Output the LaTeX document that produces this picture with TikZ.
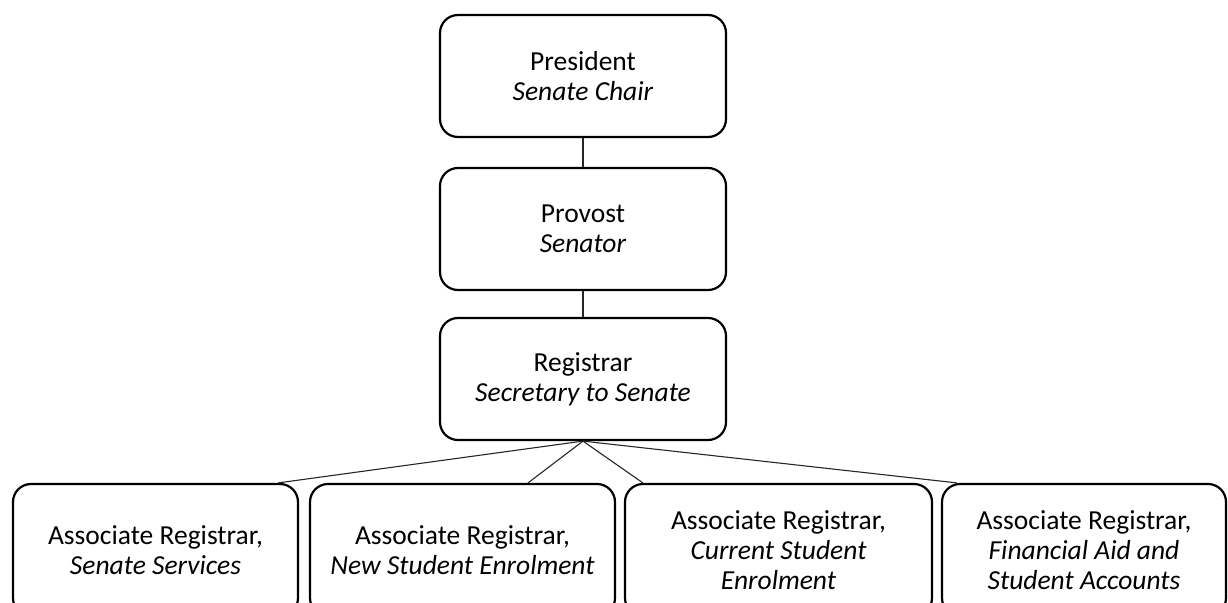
\documentclass[tikz,border=0pt]{standalone}
\usepackage{fontspec}
\setmainfont{Carlito}
\begin{document}
\begin{tikzpicture}[x=1pt,y=-1pt,
  box/.style={draw=black, line width=2.2pt, rounded corners=18pt, align=center,
    font=\fontsize{27.5}{30}\selectfont, inner sep=0pt, minimum height=122pt},
  lowbox/.style={box, minimum height=132pt},
  link/.style={draw=black!85, line width=1.1pt}]
\useasboundingbox (0,0) rectangle (1228,602);
\clip (0,0) rectangle (1228,602);
\node[box, minimum width=286pt] (pres) at (583,76) {President\\\textit{Senate Chair}};
\node[box, minimum width=286pt] (prov) at (583,229) {Provost\\\textit{Senator}};
\node[box, minimum width=286pt] (reg) at (583,379) {Registrar\\\textit{Secretary to Senate}};
\node[lowbox, minimum width=285pt] (b1) at (155.5,550) {Associate Registrar,\\\textit{Senate Services}};
\node[lowbox, minimum width=305pt] (b2) at (462.5,550) {Associate Registrar,\\\textit{New Student Enrolment}};
\node[lowbox, minimum width=307pt] (b3) at (778.5,550) {Associate Registrar,\\\textit{Current Student}\\\textit{Enrolment}};
\node[lowbox, minimum width=284pt] (b4) at (1084,550) {Associate Registrar,\\\textit{Financial Aid and}\\\textit{Student Accounts}};
\coordinate (e1) at ([xshift=-21pt]b1.north east);
\coordinate (e2) at ([xshift=65.5pt]b2.north);
\coordinate (e3) at ([xshift=19pt]b3.north west);
\coordinate (e4) at ([xshift=16pt]b4.north west);
\draw[link] (pres.south) -- (prov.north);
\draw[link] (prov.south) -- (reg.north);
\draw[link] (reg.south) -- (e1);
\draw[link] (reg.south) -- (e2);
\draw[link] (reg.south) -- (e3);
\draw[link] (reg.south) -- (e4);
\end{tikzpicture}
\end{document}
